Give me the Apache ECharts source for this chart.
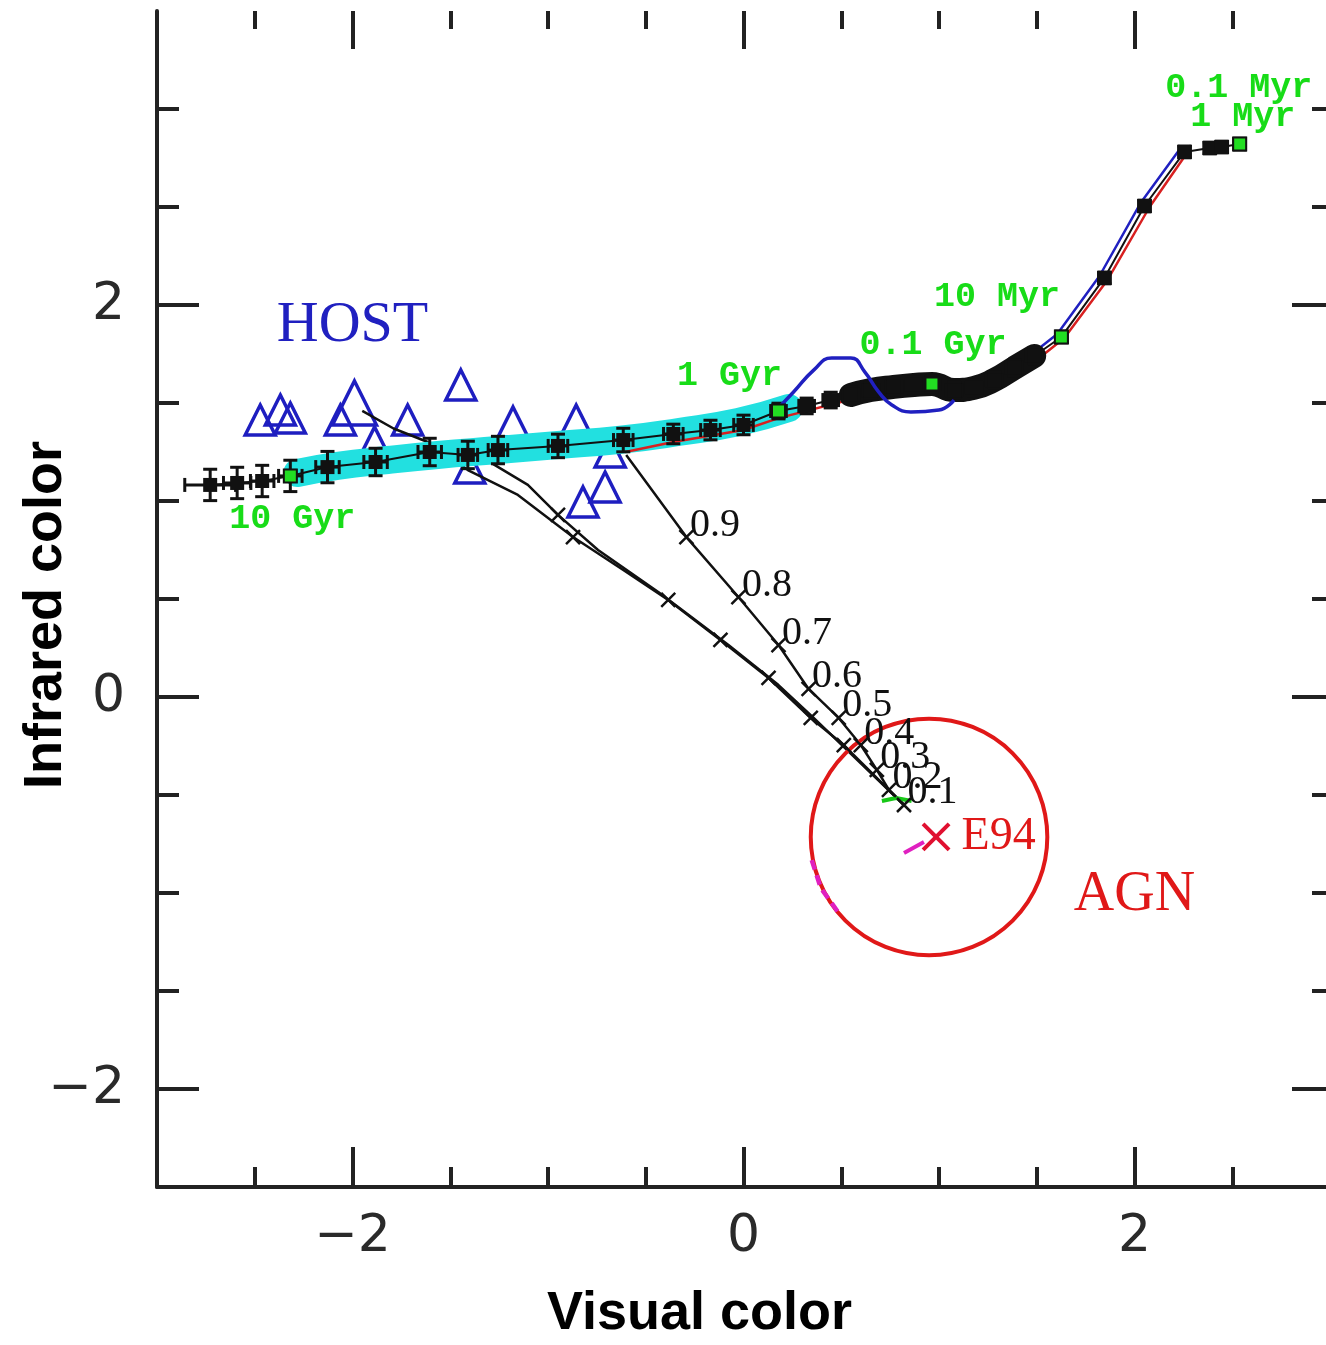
<!DOCTYPE html>
<html>
<head>
<meta charset="utf-8">
<script src="https://cdn.jsdelivr.net/npm/echarts@6/dist/echarts.min.js"></script>
<style>
  html, body { margin: 0; padding: 0; background: #fff; }
  #chart { width: 1326px; height: 1345px; }
</style>
</head>
<body>
<div id="chart"></div>
<script>
// ticks
const xMajorTicks = [-2, 0, 2];
const xMinorTicks = [-2.5, -1.5, -1, -0.5, 0.5, 1, 1.5, 2.5];
const yMajorTicks = [-2, 0, 2];
const yMinorTicks = [-1.5, -1, -0.5, 0.5, 1, 1.5, 2.5, 3];

// evolutionary track (visual color, infrared color, errors)
const trackX = [-2.728, -2.590, -2.462, -2.318, -2.128, -1.882, -1.605, -1.410, -1.256, -0.949,
  -0.615, -0.359, -0.169, 0.0, 0.179, 0.323, 0.446, 0.549, 0.651, 0.769,
  0.872, 0.964, 1.077, 1.179, 1.282, 1.385, 1.487, 1.626, 1.846, 2.051,
  2.256, 2.385, 2.446, 2.538];
const trackY = [1.082, 1.092, 1.102, 1.128, 1.173, 1.199, 1.250, 1.235, 1.260, 1.281,
  1.311, 1.342, 1.362, 1.388, 1.459, 1.485, 1.515, 1.541, 1.566, 1.582,
  1.592, 1.597, 1.566, 1.577, 1.617, 1.679, 1.740, 1.837, 2.138, 2.505,
  2.781, 2.801, 2.806, 2.821];
const trackXErr = [0.13, 0.07, 0.06, 0.06, 0.06, 0.06, 0.06, 0.05, 0.05, 0.05,
  0.05, 0.05, 0.05, 0.05, 0.04, 0.04, 0.04, 0.04, 0.04, 0.04,
  0.04, 0.04, 0.04, 0.04, 0.04, 0.04, 0.04, 0.03, 0.03, 0.03,
  0.03, 0.03, 0.03, 0.03];
const trackYErr = [0.08, 0.08, 0.08, 0.08, 0.08, 0.07, 0.07, 0.07, 0.07, 0.06,
  0.06, 0.05, 0.05, 0.05, 0.04, 0.04, 0.04, 0.04, 0.04, 0.04,
  0.04, 0.04, 0.04, 0.04, 0.04, 0.04, 0.04, 0.03, 0.03, 0.03,
  0.03, 0.03, 0.03, 0.03];
const ageMarkIdx = [3, 14, 21, 27, 33];

// age labels
const ageLabels = ['0.1 Myr', '1 Myr', '10 Myr', '0.1 Gyr', '1 Gyr', '10 Gyr'];
const ageLabelX = [2.533, 2.554, 1.297, 0.969, -0.072, -2.308];
const ageLabelY = [3.107, 2.959, 2.041, 1.796, 1.638, 0.908];

// cyan band
const bandX = [-2.282, -2.077, -1.821, -1.564, -1.256, -0.949, -0.641, -0.333, -0.026, 0.231];
const bandY = [1.143, 1.179, 1.209, 1.235, 1.260, 1.286, 1.311, 1.352, 1.403, 1.474];

// red and blue model tracks
const redX = [-0.605, -0.359, 0.0, 0.179, 0.538, 0.949, 1.308, 1.487, 1.641, 1.862, 2.077, 2.272];
const redY = [1.250, 1.301, 1.362, 1.423, 1.515, 1.566, 1.607, 1.709, 1.832, 2.128, 2.500, 2.781];
const blueX = [1.308, 1.462, 1.605, 1.821, 2.031, 2.236];
const blueY = [1.653, 1.740, 1.852, 2.148, 2.520, 2.801];

// blue contour around 0.1 Gyr
const loopX = [0.154, 0.256, 0.359, 0.451, 0.549, 0.621, 0.692, 0.759, 0.856, 0.999, 1.077];
const loopY = [1.449, 1.556, 1.668, 1.730, 1.730, 1.658, 1.556, 1.490, 1.454, 1.464, 1.515];

// host galaxies
const hostX = [-2.472, -2.369, -2.318, -2.062, -1.887, -1.718, -1.446, -1.179, -0.856, -1.400, -0.708, -0.821, -0.682];
const hostY = [1.413, 1.464, 1.423, 1.413, 1.301, 1.413, 1.592, 1.403, 1.413, 1.168, 1.071, 0.995, 1.250];
const hostBigX = [-1.990];
const hostBigY = [1.500];

// mixing lines host -> AGN
const mix1X = [-0.600, -0.292, -0.026, 0.179, 0.333, 0.487, 0.600, 0.682, 0.744, 0.821];
const mix1Y = [1.235, 0.816, 0.510, 0.265, 0.041, -0.107, -0.245, -0.372, -0.474, -0.551];
const fracLabels = ['0.9', '0.8', '0.7', '0.6', '0.5', '0.4', '0.3', '0.2', '0.1'];
const mix2X = [-1.950, -1.790, -1.615, -1.410, -1.154, -0.872, -0.615, -0.385, -0.118, 0.128, 0.344, 0.513, 0.821];
const mix2Y = [1.460, 1.370, 1.301, 1.158, 1.031, 0.816, 0.648, 0.495, 0.291, 0.097, -0.107, -0.245, -0.551];
const mix3X = [-1.359, -1.103, -0.949, -0.744, -0.436, -0.077, 0.179, 0.359, 0.821];
const mix3Y = [1.235, 1.082, 0.929, 0.750, 0.536, 0.265, 0.061, -0.107, -0.551];
const mixMarkX = [-0.949, -0.872, -0.385, -0.118, 0.128, 0.344, 0.513];
const mixMarkY = [0.929, 0.816, 0.495, 0.291, 0.097, -0.107, -0.245];

// AGN region
const agnX = 0.949, agnY = -0.714, agnR = 0.605;
const e94X = 0.985, e94Y = -0.714;
const e94StubX = [0.821, 0.923];
const e94StubY = [-0.796, -0.740];
const magArcX = [0.349, 0.395, 0.487];
const magArcY = [-0.832, -0.974, -1.102];
const greenEndX = [0.708, 0.780, 0.860];
const greenEndY = [-0.531, -0.515, -0.531];

const zip = (xs, ys) => xs.map((x, i) => [x, ys[i]]);
const fmt = v => (v < 0 ? '\u2212' + Math.abs(v) : String(v));
const crossPath = 'path://M0,0L10,10M10,0L0,10';
const solid = { opacity: 1 };

function renderErr(params, api) {
  const x = api.value(0), y = api.value(1), ex = api.value(2), ey = api.value(3);
  const c = api.coord([x, y]);
  const l = api.coord([x - ex, y]), r = api.coord([x + ex, y]);
  const t = api.coord([x, y + ey]), b = api.coord([x, y - ey]);
  const cap = 7;
  const st = { stroke: '#111', lineWidth: 3 };
  const seg = (x1, y1, x2, y2) => ({ type: 'line', shape: { x1, y1, x2, y2 }, style: st });
  return {
    type: 'group',
    children: [
      seg(l[0], l[1], r[0], r[1]),
      seg(l[0], l[1] - cap, l[0], l[1] + cap),
      seg(r[0], r[1] - cap, r[0], r[1] + cap),
      seg(t[0], t[1], b[0], b[1]),
      seg(t[0] - cap, t[1], t[0] + cap, t[1]),
      seg(b[0] - cap, b[1], b[0] + cap, b[1]),
      { type: 'rect', shape: { x: c[0] - 7, y: c[1] - 7, width: 14, height: 14 }, style: { fill: '#111' } }
    ]
  };
}

function renderCircle(params, api) {
  const c = api.coord([api.value(0), api.value(1)]);
  const r = api.size([api.value(2), 0])[0];
  return { type: 'circle', shape: { cx: c[0], cy: c[1], r }, style: { fill: 'none', stroke: '#e01818', lineWidth: 4 } };
}

const axisBase = { type: 'value', min: -3, max: 3, splitLine: { show: false } };
const yBase = { type: 'value', min: -2.5, max: 3.5, splitLine: { show: false } };
const tickStyle = { color: '#222', width: 4 };
const labelStyle = { fontFamily: 'DejaVu Sans', fontSize: 52, color: '#2a2a2a' };
const hidden = { show: false, onZero: false };

const chart = echarts.init(document.getElementById('chart'));
chart.setOption({
  animation: false,
  backgroundColor: '#fff',
  grid: { left: 157, top: 11, width: 1173, height: 1176, outerBoundsMode: 'none', containLabel: false },
  xAxis: [
    Object.assign({}, axisBase, {
      position: 'bottom',
      axisLine: { show: true, onZero: false, lineStyle: { color: '#222', width: 4 } },
      axisTick: { show: true, inside: true, length: 40, lineStyle: tickStyle, customValues: xMajorTicks },
      axisLabel: Object.assign({ margin: 24, customValues: xMajorTicks, formatter: fmt }, labelStyle),
      name: 'Visual color', nameLocation: 'middle', nameGap: 100, nameMoveOverlap: false,
      nameTextStyle: { fontFamily: 'Liberation Sans', fontSize: 54, fontWeight: 'bold', color: '#000', padding: [0, 88, 0, 0] }
    }),
    Object.assign({}, axisBase, {
      position: 'bottom', axisLine: hidden, axisLabel: { show: false },
      axisTick: { show: true, inside: true, length: 20, lineStyle: tickStyle, customValues: xMinorTicks }
    }),
    Object.assign({}, axisBase, {
      position: 'top', axisLine: hidden, axisLabel: { show: false },
      axisTick: { show: true, inside: true, length: 38, lineStyle: tickStyle, customValues: xMajorTicks }
    }),
    Object.assign({}, axisBase, {
      position: 'top', axisLine: hidden, axisLabel: { show: false },
      axisTick: { show: true, inside: true, length: 18, lineStyle: tickStyle, customValues: xMinorTicks }
    })
  ],
  yAxis: [
    Object.assign({}, yBase, {
      position: 'left',
      axisLine: { show: true, onZero: false, lineStyle: { color: '#222', width: 4 } },
      axisTick: { show: true, inside: true, length: 42, lineStyle: tickStyle, customValues: yMajorTicks },
      axisLabel: Object.assign({ margin: 32, customValues: yMajorTicks, formatter: fmt }, labelStyle),
      name: 'Infrared color', nameLocation: 'middle', nameGap: 84, nameRotate: 90, nameMoveOverlap: false,
      nameTextStyle: { fontFamily: 'Liberation Sans', fontSize: 54, fontWeight: 'bold', color: '#000', padding: [0, 32, 0, 0] }
    }),
    Object.assign({}, yBase, {
      position: 'left', axisLine: hidden, axisLabel: { show: false },
      axisTick: { show: true, inside: true, length: 22, lineStyle: tickStyle, customValues: yMinorTicks }
    }),
    Object.assign({}, yBase, {
      position: 'right', axisLine: hidden, axisLabel: { show: false },
      axisTick: { show: true, inside: true, length: 38, lineStyle: tickStyle, customValues: yMajorTicks }
    }),
    Object.assign({}, yBase, {
      position: 'right', axisLine: hidden, axisLabel: { show: false },
      axisTick: { show: true, inside: true, length: 18, lineStyle: tickStyle, customValues: yMinorTicks }
    })
  ],
  series: [
    // host triangles
    {
      type: 'scatter', symbol: 'triangle', symbolSize: 30, z: 2,
      itemStyle: { color: 'rgba(0,0,0,0)', borderColor: '#1e1ec0', borderWidth: 3.5, opacity: 1 },
      data: zip(hostX, hostY)
    },
    {
      type: 'scatter', symbol: 'triangle', symbolSize: 44, z: 2,
      itemStyle: { color: 'rgba(0,0,0,0)', borderColor: '#1e1ec0', borderWidth: 3.5, opacity: 1 },
      data: zip(hostBigX, hostBigY)
    },
    // mixing lines
    {
      type: 'line', showSymbol: false, z: 3,
      lineStyle: { color: '#111', width: 2.5 }, data: zip(mix2X, mix2Y)
    },
    {
      type: 'line', showSymbol: false, z: 3,
      lineStyle: { color: '#111', width: 2.5 }, data: zip(mix3X, mix3Y)
    },
    {
      type: 'line', showSymbol: false, z: 3,
      lineStyle: { color: '#111', width: 2.5 }, data: zip(mix1X, mix1Y)
    },
    {
      type: 'scatter', symbol: crossPath, symbolSize: 14, z: 4,
      itemStyle: { color: 'none', borderColor: '#111', borderWidth: 2.5, opacity: 1 },
      data: zip(mixMarkX, mixMarkY)
    },
    {
      type: 'scatter', symbol: crossPath, symbolSize: 14, z: 4,
      itemStyle: { color: 'none', borderColor: '#111', borderWidth: 2.5, opacity: 1 },
      label: {
        show: true, position: 'right', distance: -6, offset: [0, -12],
        fontFamily: 'Liberation Serif', fontSize: 40, color: '#111',
        formatter: p => fracLabels[p.dataIndex]
      },
      data: zip(mix1X.slice(1), mix1Y.slice(1))
    },
    // cyan band
    {
      type: 'line', showSymbol: false, smooth: true, z: 5,
      lineStyle: { color: '#22e0e0', width: 28, cap: 'round', join: 'round' },
      data: zip(bandX, bandY)
    },
    // red / blue model tracks
    {
      type: 'line', showSymbol: false, z: 6,
      lineStyle: { color: '#d82020', width: 2.5 }, data: zip(redX, redY)
    },
    {
      type: 'line', showSymbol: false, z: 6,
      lineStyle: { color: '#2020c0', width: 2.5 }, data: zip(blueX, blueY)
    },
    // black track
    {
      type: 'line', showSymbol: false, z: 7,
      lineStyle: { color: '#111', width: 2 }, data: zip(trackX, trackY)
    },
    {
      type: 'line', showSymbol: false, smooth: true, z: 7,
      lineStyle: { color: '#111', width: 24, cap: 'round' },
      data: zip(trackX.slice(17, 27), trackY.slice(17, 27))
    },
    {
      type: 'custom', renderItem: renderErr, z: 8,
      data: trackX.map((x, i) => [x, trackY[i], trackXErr[i], trackYErr[i]])
    },
    // blue contour
    {
      type: 'line', showSymbol: false, smooth: true, z: 9,
      lineStyle: { color: '#2020c0', width: 3.5 }, data: zip(loopX, loopY)
    },
    // age markers
    {
      type: 'scatter', symbol: 'rect', symbolSize: 13, z: 10,
      itemStyle: { color: '#22dd22', borderColor: '#111', borderWidth: 2, opacity: 1 },
      data: ageMarkIdx.map(i => [trackX[i], trackY[i]])
    },
    // age labels
    {
      type: 'scatter', symbolSize: 0, z: 11, itemStyle: solid,
      label: {
        show: true, position: 'inside', fontFamily: 'Liberation Mono', fontWeight: 'bold',
        fontSize: 35, color: '#18dc18', formatter: p => ageLabels[p.dataIndex]
      },
      data: zip(ageLabelX, ageLabelY)
    },
    // green bits at the AGN end
    {
      type: 'line', showSymbol: false, z: 4,
      lineStyle: { color: '#18c818', width: 4 }, data: zip(greenEndX, greenEndY)
    },
    // AGN circle
    {
      type: 'custom', renderItem: renderCircle, z: 4,
      data: [[agnX, agnY, agnR]]
    },
    {
      type: 'line', showSymbol: false, z: 5,
      lineStyle: { color: '#e020c0', width: 4.5, type: [10, 6] }, data: zip(magArcX, magArcY)
    },
    {
      type: 'line', showSymbol: false, z: 5,
      lineStyle: { color: '#e020c0', width: 4 }, data: zip(e94StubX, e94StubY)
    },
    {
      type: 'scatter', symbol: crossPath, symbolSize: 26, z: 6,
      itemStyle: { color: 'none', borderColor: '#e01030', borderWidth: 4, opacity: 1 },
      label: {
        show: true, position: 'right', distance: 10, fontFamily: 'Liberation Serif',
        fontSize: 46, color: '#e01818', formatter: 'E94'
      },
      data: [[e94X, e94Y]]
    },
    // text annotations
    {
      type: 'scatter', symbolSize: 0, z: 11, itemStyle: solid,
      label: {
        show: true, position: 'inside', fontFamily: 'Liberation Serif',
        fontSize: 58, color: '#2020c0', formatter: 'HOST'
      },
      data: [[-2.0, 1.893]]
    },
    {
      type: 'scatter', symbolSize: 0, z: 11, itemStyle: solid,
      label: {
        show: true, position: 'inside', fontFamily: 'Liberation Serif',
        fontSize: 56, color: '#e01818', formatter: 'AGN'
      },
      data: [[2.0, -1.010]]
    }
  ]
});
</script>
</body>
</html>
